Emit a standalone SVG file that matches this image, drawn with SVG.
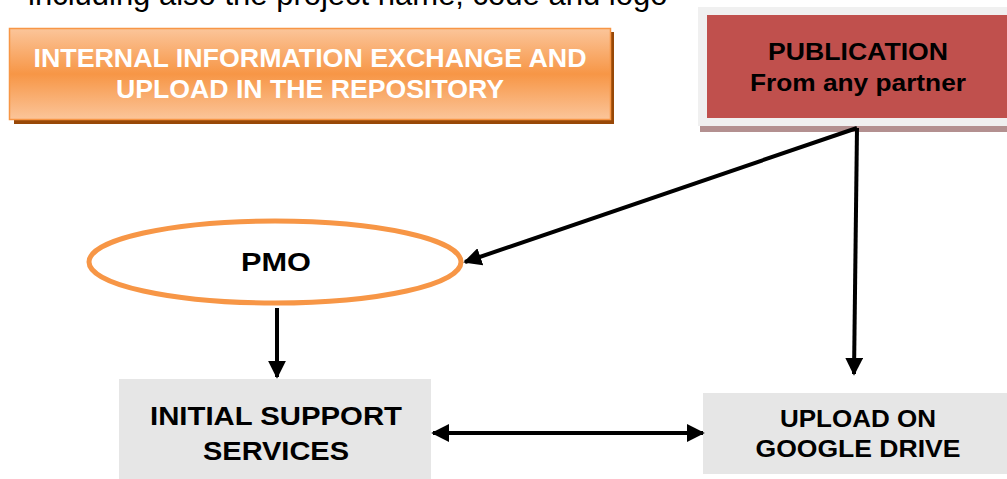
<svg xmlns="http://www.w3.org/2000/svg" width="1007" height="479" viewBox="0 0 1007 479">
  <defs>
    <linearGradient id="orangeFill" x1="0" y1="0" x2="0" y2="1">
      <stop offset="0" stop-color="#fbc59a"/>
      <stop offset="0.5" stop-color="#f79646"/>
      <stop offset="1" stop-color="#fbc59a"/>
    </linearGradient>
    <marker id="arrow" viewBox="0 0 10 10" refX="9" refY="5" markerWidth="4.5" markerHeight="4.5" orient="auto-start-reverse" markerUnits="strokeWidth">
      <path d="M0,0 L10,5 L0,10 z" fill="#000"/>
    </marker>
    <style>
      .label { font-family: "Liberation Sans", Arial, sans-serif; font-weight: bold; text-anchor: middle; }
      .dark { fill: #000; }
      .white { fill: #fff; }
      .box { fill: #e6e6e6; }
      .conn { stroke: #000; stroke-width: 4; fill: none; marker-end: url(#arrow); }
    </style>
  </defs>

  <rect width="1007" height="479" fill="#fff"/>

  <!-- page text running above the figure -->
  <text x="28" y="5" font-family="Liberation Sans, Arial, sans-serif" font-size="31" fill="#000">including also the project name, code and logo</text>

  <!-- title banner -->
  <g id="title">
    <rect x="14" y="32" width="600" height="92" fill="#984807"/>
    <rect x="9.5" y="28.5" width="601" height="91" fill="url(#orangeFill)" stroke="#f79646" stroke-width="1.5"/>
    <text class="label white" x="310" y="67" font-size="26" textLength="553" lengthAdjust="spacingAndGlyphs">INTERNAL INFORMATION EXCHANGE AND</text>
    <text class="label white" x="310" y="98" font-size="26" textLength="388" lengthAdjust="spacingAndGlyphs">UPLOAD IN THE REPOSITORY</text>
  </g>

  <!-- publication source -->
  <g id="publication">
    <rect x="700" y="126" width="307" height="6" fill="#b39090"/>
    <rect x="698" y="7" width="309" height="119" fill="#f0f0f0"/>
    <rect x="707" y="15" width="300" height="103" fill="#c0504d"/>
    <text class="label dark" x="858" y="60" font-size="24" textLength="180" lengthAdjust="spacingAndGlyphs">PUBLICATION</text>
    <text class="label dark" x="858" y="91" font-size="24" textLength="216" lengthAdjust="spacingAndGlyphs">From any partner</text>
  </g>

  <!-- PMO -->
  <g id="pmo">
    <ellipse cx="275" cy="262" rx="186" ry="41" fill="#fff" stroke="#f79646" stroke-width="5"/>
    <text class="label dark" x="276" y="271" font-size="26" textLength="70" lengthAdjust="spacingAndGlyphs">PMO</text>
  </g>

  <!-- initial support services -->
  <g id="support">
    <rect class="box" x="119" y="379" width="312" height="100"/>
    <text class="label dark" x="276" y="425" font-size="25" textLength="252" lengthAdjust="spacingAndGlyphs">INITIAL SUPPORT</text>
    <text class="label dark" x="276" y="460" font-size="25" textLength="146" lengthAdjust="spacingAndGlyphs">SERVICES</text>
  </g>

  <!-- upload on google drive -->
  <g id="upload">
    <rect class="box" x="703" y="393" width="304" height="81"/>
    <text class="label dark" x="858" y="427" font-size="23" textLength="156" lengthAdjust="spacingAndGlyphs">UPLOAD ON</text>
    <text class="label dark" x="858" y="457" font-size="23" textLength="205" lengthAdjust="spacingAndGlyphs">GOOGLE DRIVE</text>
  </g>

  <!-- connectors -->
  <g id="connectors">
    <line class="conn" x1="857" y1="128" x2="465" y2="262"/>
    <line class="conn" x1="857" y1="128" x2="854" y2="374"/>
    <line class="conn" x1="277" y1="308" x2="277" y2="377"/>
    <line class="conn" x1="433" y1="433" x2="703" y2="433" marker-start="url(#arrow)"/>
  </g>
</svg>
